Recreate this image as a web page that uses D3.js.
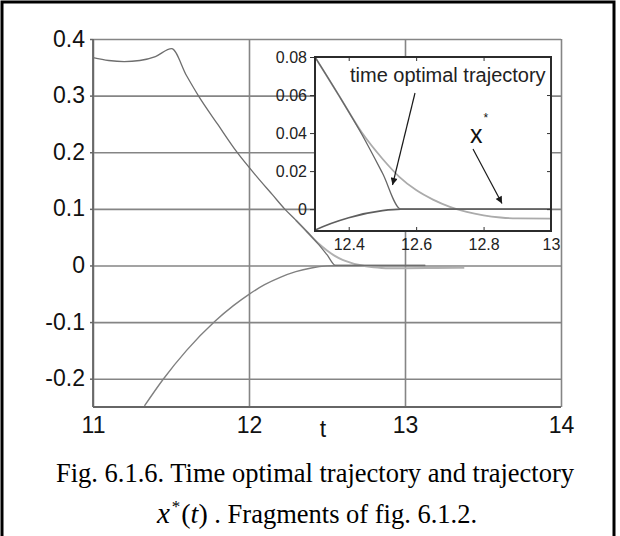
<!DOCTYPE html>
<html>
<head>
<meta charset="utf-8">
<script src="https://cdn.jsdelivr.net/npm/d3@7"></script>
<style>
  html, body { margin: 0; padding: 0; background: #fff; }
  svg { display: block; }
</style>
</head>
<body>
<svg id="chart" width="620" height="536"></svg>
<script>
// ---------- data ----------
const mainXTicks = [11, 12, 13, 14];
const mainXTickLabels = ["11", "12", "13", "14"];
const mainYTicks = [0.4, 0.3, 0.2, 0.1, 0, -0.1, -0.2];
const mainYTickLabels = ["0.4", "0.3", "0.2", "0.1", "0", "-0.1", "-0.2"];
const insetXTicks = [12.4, 12.6, 12.8, 13];
const insetXTickLabels = ["12.4", "12.6", "12.8", "13"];
const insetYTicks = [0, 0.02, 0.04, 0.06, 0.08];
const insetYTickLabels = ["0", "0.02", "0.04", "0.06", "0.08"];

// time optimal trajectory, upper branch  [t, value]
const timeOptimalUpper = [
  [11.0, 0.367], [11.1, 0.362], [11.2, 0.360], [11.3, 0.362], [11.4, 0.369],
  [11.504, 0.383], [11.6, 0.335], [11.675, 0.300], [11.8, 0.249], [11.923, 0.200],
  [12.05, 0.157], [12.15, 0.125], [12.228, 0.100], [12.3, 0.080], [12.37, 0.060],
  [12.44, 0.039], [12.5, 0.019], [12.555, 0.0], [13.13, 0.0]
];
// time optimal trajectory, lower branch
const timeOptimalLower = [
  [11.33, -0.248], [11.45, -0.201], [11.6, -0.150], [11.78, -0.099], [11.9, -0.071],
  [12.0, -0.051], [12.1, -0.034], [12.2, -0.021], [12.3, -0.011], [12.4, -0.0045],
  [12.5, -0.0008], [12.555, 0.0], [13.13, 0.0]
];
// trajectory x*
const xStar = [
  [12.3, 0.080], [12.37, 0.060], [12.44, 0.040], [12.5, 0.0265], [12.55, 0.017],
  [12.6, 0.010], [12.65, 0.005], [12.7, 0.0012], [12.75, -0.0015], [12.8, -0.0033],
  [12.85, -0.0044], [12.9, -0.0049], [13.0, -0.005], [13.2, -0.0045], [13.38, -0.004]
];

const axisLabel = "t";
const insetLabel = "time optimal trajectory";
const captionLine1 = "Fig. 6.1.6. Time optimal trajectory and trajectory";
const captionLine2Tail = " . Fragments of fig. 6.1.2.";

// ---------- layout ----------
const svg = d3.select("#chart");
const sans = "Arial, 'Liberation Sans', sans-serif";
const serif = "'Times New Roman', 'Liberation Serif', serif";

// outer frame
svg.append("path")
  .attr("d", "M2,536 V2 H614 V536")
  .attr("fill", "none").attr("stroke", "#000").attr("stroke-width", 3);

const M = { left: 93, right: 561, top: 39, bottom: 407 };
const x = d3.scaleLinear().domain([11, 14]).range([M.left, M.right]);
const y = d3.scaleLinear().domain([-0.25, 0.4]).range([M.bottom, M.top]);

const gridColor = "#858585";

// grid lines via axes
const gy = svg.append("g").attr("transform", `translate(${M.left},0)`)
  .call(d3.axisLeft(y).tickValues(mainYTicks).tickSize(-(M.right - M.left)).tickFormat(""));
gy.select(".domain").remove();
gy.selectAll("line").attr("stroke", gridColor).attr("stroke-width", 1.6);

const gx = svg.append("g").attr("transform", `translate(0,${M.bottom})`)
  .call(d3.axisBottom(x).tickValues(mainXTicks).tickSize(-(M.bottom - M.top)).tickFormat(""));
gx.select(".domain").remove();
gx.selectAll("line").attr("stroke", gridColor).attr("stroke-width", 1.6);

// axis lines (left & bottom darker)
svg.append("line").attr("x1", M.left).attr("x2", M.left).attr("y1", M.top).attr("y2", M.bottom)
  .attr("stroke", "#666").attr("stroke-width", 1.8);
svg.append("line").attr("x1", M.left).attr("x2", M.right).attr("y1", M.bottom).attr("y2", M.bottom)
  .attr("stroke", "#666").attr("stroke-width", 1.8);

// tick labels
const ay = svg.append("g").attr("transform", `translate(${M.left},0)`)
  .call(d3.axisLeft(y).tickValues(mainYTicks).tickSize(3).tickPadding(5)
    .tickFormat((d, i) => mainYTickLabels[i]));
ay.select(".domain").remove();
ay.selectAll("line").attr("stroke", "#666").attr("stroke-width", 1.5);
ay.selectAll("text").attr("font-family", sans).attr("font-size", 23).attr("fill", "#111")
  .attr("dy", null).attr("y", 7);

const ax = svg.append("g").attr("transform", `translate(0,${M.bottom})`)
  .call(d3.axisBottom(x).tickValues(mainXTicks).tickSize(0).tickPadding(0)
    .tickFormat((d, i) => mainXTickLabels[i]));
ax.select(".domain").remove();
ax.selectAll("text").attr("font-family", sans).attr("font-size", 23).attr("fill", "#111")
  .attr("dy", null).attr("y", 26);

svg.append("text").attr("x", 323).attr("y", 437).attr("text-anchor", "middle")
  .attr("font-family", sans).attr("font-size", 23).attr("fill", "#111").text(axisLabel);

// clip main
svg.append("clipPath").attr("id", "mainClip").append("rect")
  .attr("x", M.left).attr("y", M.top).attr("width", M.right - M.left).attr("height", M.bottom - M.top);

const mainLine = d3.line().x(d => x(d[0])).y(d => y(d[1])).curve(d3.curveMonotoneX);
const gm = svg.append("g").attr("clip-path", "url(#mainClip)");
gm.append("path").datum(xStar).attr("d", mainLine).attr("fill", "none")
  .attr("stroke", "#b0b0b0").attr("stroke-width", 2);
gm.append("path").datum(timeOptimalLower).attr("d", mainLine).attr("fill", "none")
  .attr("stroke", "#808080").attr("stroke-width", 1.4);
gm.append("path").datum(timeOptimalUpper).attr("d", mainLine).attr("fill", "none")
  .attr("stroke", "#6e6e6e").attr("stroke-width", 1.3);

// ---------- inset ----------
const I = { left: 315, right: 551, top: 57, bottom: 231 };
const xi = d3.scaleLinear().domain([12.3, 13]).range([I.left, I.right]);
const yi = d3.scaleLinear().domain([-0.0115, 0.08]).range([I.bottom, I.top]);

svg.append("rect").attr("x", I.left).attr("y", I.top).attr("width", I.right - I.left)
  .attr("height", I.bottom - I.top).attr("fill", "#fff");

svg.append("clipPath").attr("id", "insetClip").append("rect")
  .attr("x", I.left).attr("y", I.top).attr("width", I.right - I.left).attr("height", I.bottom - I.top);

const insetLine = d3.line().x(d => xi(d[0])).y(d => yi(d[1])).curve(d3.curveMonotoneX);
const gi = svg.append("g").attr("clip-path", "url(#insetClip)");
gi.append("path").datum(xStar).attr("d", insetLine).attr("fill", "none")
  .attr("stroke", "#ababab").attr("stroke-width", 1.8);
gi.append("path").datum(timeOptimalLower).attr("d", insetLine).attr("fill", "none")
  .attr("stroke", "#5e5e5e").attr("stroke-width", 1.6);
gi.append("path").datum(timeOptimalUpper).attr("d", insetLine).attr("fill", "none")
  .attr("stroke", "#666").attr("stroke-width", 1.3);

// inset ticks
const tickCol = "#333";
const iyL = svg.append("g").attr("transform", `translate(${I.left},0)`)
  .call(d3.axisLeft(yi).tickValues(insetYTicks).tickSize(5).tickPadding(3)
    .tickFormat((d, i) => insetYTickLabels[i]));
iyL.select(".domain").remove();
iyL.selectAll("line").attr("stroke", tickCol).attr("stroke-width", 1);
iyL.selectAll("text").attr("font-family", sans).attr("font-size", 16).attr("fill", "#222")
  .attr("dy", null).attr("y", 5.5);

const iyR = svg.append("g").attr("transform", `translate(${I.right},0)`)
  .call(d3.axisLeft(yi).tickValues(insetYTicks).tickSize(4).tickFormat(""));
iyR.select(".domain").remove();
iyR.selectAll("line").attr("stroke", tickCol).attr("stroke-width", 1);

const ixB = svg.append("g").attr("transform", `translate(0,${I.bottom})`)
  .call(d3.axisTop(xi).tickValues(insetXTicks).tickSize(4).tickFormat(""));
ixB.select(".domain").remove();
ixB.selectAll("line").attr("stroke", tickCol).attr("stroke-width", 1);

const ixT = svg.append("g").attr("transform", `translate(0,${I.top})`)
  .call(d3.axisBottom(xi).tickValues(insetXTicks).tickSize(4).tickFormat(""));
ixT.select(".domain").remove();
ixT.selectAll("line").attr("stroke", tickCol).attr("stroke-width", 1);

const ixL = svg.append("g").attr("transform", `translate(0,${I.bottom})`)
  .call(d3.axisBottom(xi).tickValues(insetXTicks).tickSize(0).tickPadding(0)
    .tickFormat((d, i) => insetXTickLabels[i]));
ixL.select(".domain").remove();
ixL.selectAll("text").attr("font-family", sans).attr("font-size", 16).attr("fill", "#222")
  .attr("dy", null).attr("y", 19);

svg.append("rect").attr("x", I.left).attr("y", I.top).attr("width", I.right - I.left)
  .attr("height", I.bottom - I.top).attr("fill", "none")
  .attr("stroke", "#2b2b2b").attr("stroke-width", 2);

// annotations
svg.append("text").attr("x", 350).attr("y", 82).attr("font-family", sans)
  .attr("font-size", 20).attr("fill", "#222").text(insetLabel);

const xs = svg.append("text").attr("x", 470).attr("y", 143).attr("font-family", sans)
  .attr("font-size", 25).attr("fill", "#111");
xs.append("tspan").text("x");
xs.append("tspan").attr("font-size", 12).attr("dx", 1).attr("dy", -21).text("*");

const defs = svg.append("defs");
defs.append("marker").attr("id", "arrow").attr("viewBox", "0 0 10 10")
  .attr("refX", 10).attr("refY", 5).attr("markerWidth", 13).attr("markerHeight", 7)
  .attr("markerUnits", "userSpaceOnUse").attr("orient", "auto")
  .append("path").attr("d", "M0,0 L10,5 L0,10 z").attr("fill", "#1a1a1a");

svg.append("line").attr("x1", 415).attr("y1", 93).attr("x2", 392.5).attr("y2", 185)
  .attr("stroke", "#1a1a1a").attr("stroke-width", 1.2).attr("marker-end", "url(#arrow)");
svg.append("line").attr("x1", 473).attr("y1", 149).attr("x2", 502).attr("y2", 203.5)
  .attr("stroke", "#1a1a1a").attr("stroke-width", 1.2).attr("marker-end", "url(#arrow)");

// ---------- caption ----------
svg.append("text").attr("x", 315).attr("y", 482).attr("text-anchor", "middle")
  .attr("font-family", serif).attr("font-size", 26.5).attr("fill", "#000").text(captionLine1);

const c2 = svg.append("text").attr("x", 317).attr("y", 523).attr("text-anchor", "middle")
  .attr("font-family", serif).attr("font-size", 26.5).attr("fill", "#000");
c2.append("tspan").attr("font-style", "italic").attr("font-size", 29).text("x");
c2.append("tspan").attr("font-size", 17).attr("dx", 2).attr("dy", -11).text("*");
c2.append("tspan").attr("dy", 11).attr("dx", 1).attr("font-size", 28).text("(");
c2.append("tspan").attr("font-style", "italic").attr("font-size", 28).text("t");
c2.append("tspan").attr("font-size", 28).text(")");
c2.append("tspan").text(captionLine2Tail);
</script>
</body>
</html>
